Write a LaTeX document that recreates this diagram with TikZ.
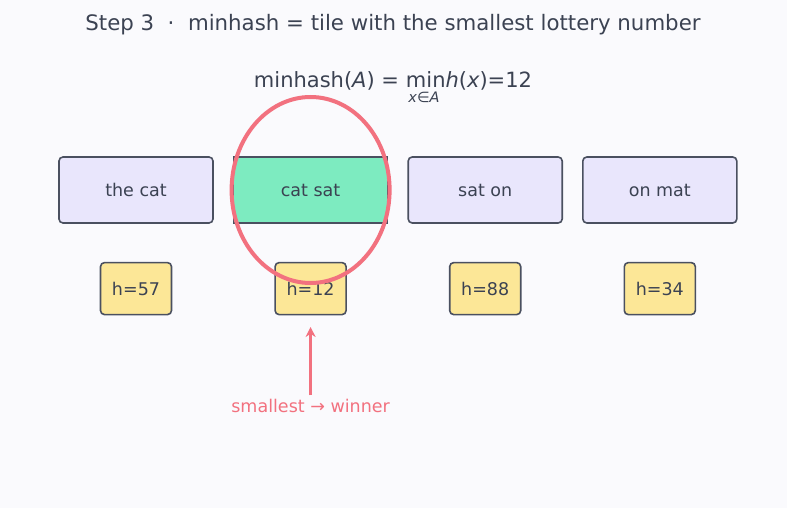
\documentclass[tikz,border=0pt]{standalone}
\usepackage{amsmath}
\usepackage{fontspec}
\setmainfont{DejaVu Sans}
\usetikzlibrary{arrows.meta, positioning}
\definecolor{pagebg}{HTML}{FAFAFD}
\definecolor{textmain}{HTML}{3B4252}
\definecolor{edgegray}{HTML}{4A5060}
\definecolor{tilefill}{HTML}{E9E6FC}
\definecolor{winfill}{HTML}{7DEBC0}
\definecolor{hashfill}{HTML}{FCE797}
\definecolor{pickred}{HTML}{F2717F}
\tikzstyle{tile} = [rectangle, rounded corners=4pt, minimum width=154pt, minimum height=66pt, text centered, draw=edgegray, line width=1.6pt, fill=tilefill, text=textmain, font=\fontsize{17.5}{21}\selectfont]
\tikzstyle{hashbox} = [rectangle, rounded corners=4pt, minimum width=71pt, minimum height=52pt, text centered, draw=edgegray, line width=1.6pt, fill=hashfill, text=textmain, font=\fontsize{17.5}{21}\selectfont]
\tikzstyle{arrow} = [line width=3pt, -{Stealth[length=10pt, width=10pt]}, color=pickred]
\begin{document}
\begin{tikzpicture}[x=1pt, y=-1pt, node distance=19pt, every node/.style={text=textmain}]
    % Canvas
    \fill[pagebg] (0,0) rectangle (787,508);
    \useasboundingbox (0,0) rectangle (787,508);

    % Title and formula
    \node[font=\fontsize{21.3}{25}\selectfont] (title) at (393,25) {Step 3\ \ ·\ \ minhash = tile with the smallest lottery number};
    \node[font=\fontsize{21}{25}\selectfont] (formula) at (393,88)
        {$\text{minhash(}\textit{A}\text{) =}\mathop{\text{\,min}}\limits_{\raisebox{-2pt}{\fontsize{14.5}{16}\selectfont\textit{x}∈\textit{A}}}\!\textit{h}\text{(}\textit{x}\text{)=12}$};

    % Tiles
    \node[tile] (tile1) at (136,190) {the cat};
    \node[tile, right=of tile1, fill=winfill, rounded corners=0pt] (tile2) {cat sat};
    \node[tile, right=of tile2] (tile3) {sat on};
    \node[tile, right=of tile3] (tile4) {on mat};

    % Hash values
    \node[hashbox, below=38pt of tile1] (hash1) {h=57};
    \node[hashbox, below=38pt of tile2] (hash2) {h=12};
    \node[hashbox, below=38pt of tile3] (hash3) {h=88};
    \node[hashbox, below=38pt of tile4] (hash4) {h=34};

    % Winner
    \draw[pickred, line width=4pt] (tile2.center) ellipse [x radius=79pt, y radius=93pt];
    \node[font=\fontsize{17.5}{21}\selectfont, text=pickred, below=80pt of hash2.south] (note) {smallest → winner};
    \draw[arrow] (note.north) -- (hash2.south |- 0,327);
\end{tikzpicture}
\end{document}
